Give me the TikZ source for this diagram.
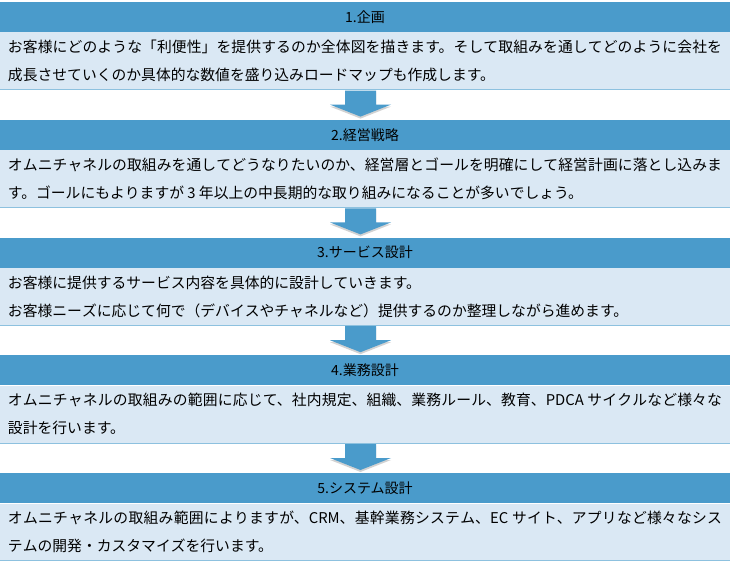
\documentclass[tikz,border=0pt]{standalone}
\usepackage{fontspec}
\setmainfont{Noto Sans CJK JP}
\XeTeXlinebreaklocale "ja"
\XeTeXlinebreakskip=0pt plus 1pt
\usetikzlibrary{positioning,calc,shadows}
\definecolor{headblue}{HTML}{4A9BCB}
\definecolor{bodyblue}{HTML}{DAE8F4}
\definecolor{edgeblue}{HTML}{8DC1DF}
\tikzset{font=\fontsize{14.8}{28}\selectfont}

\begin{document}
\begin{tikzpicture}
  [x=1pt, y=-1pt, node distance=0pt,
  head/.style={rectangle, fill=headblue, minimum width=730pt, minimum height=30pt, inner sep=0pt, font=\fontsize{14}{16}\selectfont},
  body/.style={rectangle, fill=bodyblue, minimum width=730pt, minimum height=57pt, inner xsep=8pt, inner ysep=0pt, text width=714pt, align=justify},
  flow/.style={fill=headblue, drop shadow={shadow xshift=0pt, shadow yshift=-2pt, opacity=.35}}]
  \useasboundingbox[fill=white] (0,0) rectangle (730,561);

  % stage 1
  \node [head] (head1) at (365,17) {1.企画};
  \node [body, below=of head1] (body1) {お客様にどのような「利便性」を提供するのか全体図を描きます。そして取組みを通してどのように会社を\linebreak 成長させていくのか具体的な数値を盛り込みロードマップも作成します。};
  % stage 2
  \node [head, below=30pt of body1] (head2) {2.経営戦略};
  \node [body, below=of head2] (body2) {オムニチャネルの取組みを通してどうなりたいのか、経営層とゴールを明確にして経営計画に落とし込みま\linebreak す。ゴールにもよりますが 3 年以上の中長期的な取り組みになることが多いでしょう。};
  % stage 3
  \node [head, below=30pt of body2] (head3) {3.サービス設計};
  \node [body, below=of head3] (body3) {お客様に提供するサービス内容を具体的に設計していきます。\\お客様ニーズに応じて何で（デバイスやチャネルなど）提供するのか整理しながら進めます。};
  % stage 4
  \node [head, below=30pt of body3] (head4) {4.業務設計};
  \node [body, below=of head4] (body4) {オムニチャネルの取組みの範囲に応じて、社内規定、組織、業務ルール、教育、PDCA サイクルなど様々な\linebreak 設計を行います。};
  % stage 5
  \node [head, below=30pt of body4] (head5) {5.システム設計};
  \node [body, below=of head5] (body5) {オムニチャネルの取組み範囲によりますが、CRM、基幹業務システム、EC サイト、アプリなど様々なシス\linebreak テムの開発・カスタマイズを行います。};

  \foreach \k in {1,...,5}
    \draw [edgeblue, line width=1pt] (body\k.south west) -- (body\k.south east);

  % arrows between stages
  \foreach \k in {1,...,4}
    \fill [flow] ($(body\k.south)+(-20,1)$) -- ++(31,0) -- ++(0,14) -- ++(15,0)
      -- ++(-30.5,12) -- ++(-30.5,-12) -- ++(15,0) -- cycle;
\end{tikzpicture}
\end{document}
